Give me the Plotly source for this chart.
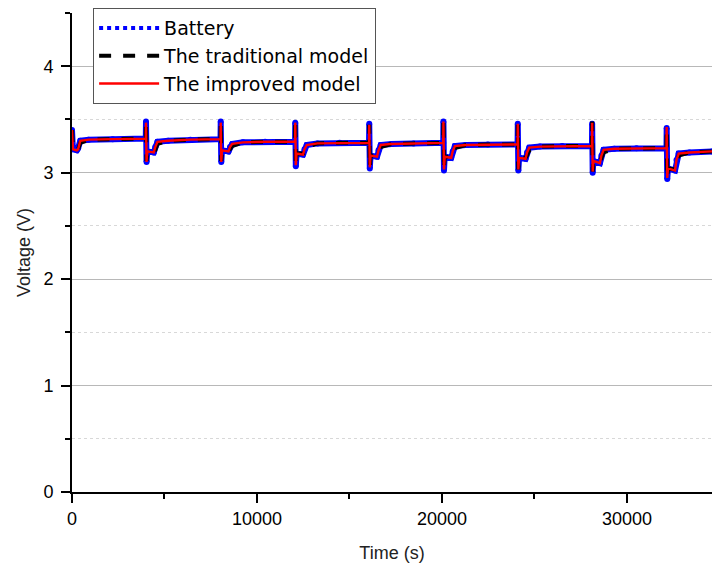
import plotly.graph_objects as go

time_s = [0, 50, 260, 330, 450, 900, 2200, 3990,
          4000, 4030, 4070, 4420, 4500, 4620, 5200, 6400, 8030,
          8040, 8070, 8110, 8460, 8540, 8660, 9240, 10440, 12060,
          12070, 12100, 12140, 12490, 12570, 12690, 13270, 14470, 16060,
          16070, 16100, 16140, 16490, 16570, 16690, 17270, 18470, 20070,
          20080, 20110, 20150, 20500, 20580, 20700, 21280, 22480, 24090,
          24100, 24130, 24170, 24520, 24600, 24720, 25300, 26500, 28110,
          28120, 28150, 28190, 28540, 28620, 28740, 29320, 30520, 32140,
          32150, 32180, 32220, 32600, 32680, 32800, 33380, 34600]

battery_v = [3.40, 3.22, 3.21, 3.23, 3.30, 3.31, 3.315, 3.32,
             3.48, 3.10, 3.20, 3.19, 3.24, 3.29, 3.30, 3.31, 3.315,
             3.48, 3.10, 3.21, 3.20, 3.24, 3.27, 3.285, 3.29, 3.29,
             3.47, 3.06, 3.18, 3.17, 3.22, 3.26, 3.275, 3.28, 3.28,
             3.46, 3.04, 3.16, 3.15, 3.21, 3.26, 3.27, 3.275, 3.28,
             3.48, 3.02, 3.15, 3.14, 3.20, 3.25, 3.26, 3.265, 3.265,
             3.46, 3.02, 3.14, 3.13, 3.19, 3.235, 3.245, 3.25, 3.25,
             3.46, 3.00, 3.11, 3.09, 3.16, 3.215, 3.225, 3.23, 3.23,
             3.42, 2.94, 3.04, 3.02, 3.12, 3.18, 3.19, 3.20]

traditional_v = [3.40, 3.23, 3.22, 3.22, 3.28, 3.31, 3.315, 3.32,
                 3.47, 3.11, 3.20, 3.20, 3.21, 3.27, 3.30, 3.31, 3.315,
                 3.47, 3.11, 3.21, 3.21, 3.22, 3.25, 3.285, 3.29, 3.29,
                 3.50, 3.07, 3.18, 3.18, 3.19, 3.24, 3.275, 3.28, 3.28,
                 3.45, 3.05, 3.16, 3.16, 3.18, 3.24, 3.27, 3.275, 3.28,
                 3.51, 3.03, 3.15, 3.15, 3.17, 3.23, 3.26, 3.265, 3.265,
                 3.45, 3.03, 3.14, 3.14, 3.16, 3.21, 3.245, 3.25, 3.25,
                 3.48, 3.01, 3.11, 3.10, 3.13, 3.19, 3.225, 3.23, 3.23,
                 3.41, 2.95, 3.04, 3.03, 3.09, 3.16, 3.19, 3.20]

improved_v = [3.40, 3.22, 3.21, 3.22, 3.30, 3.31, 3.315, 3.32,
              3.47, 3.10, 3.20, 3.19, 3.24, 3.29, 3.30, 3.31, 3.315,
              3.47, 3.10, 3.21, 3.20, 3.24, 3.27, 3.285, 3.29, 3.29,
              3.47, 3.07, 3.18, 3.17, 3.22, 3.26, 3.275, 3.28, 3.28,
              3.45, 3.05, 3.16, 3.15, 3.21, 3.26, 3.27, 3.275, 3.28,
              3.48, 3.03, 3.15, 3.14, 3.20, 3.25, 3.26, 3.265, 3.265,
              3.46, 3.03, 3.14, 3.13, 3.19, 3.235, 3.245, 3.25, 3.25,
              3.47, 3.01, 3.11, 3.09, 3.16, 3.215, 3.225, 3.23, 3.23,
              3.43, 2.95, 3.04, 3.02, 3.12, 3.18, 3.19, 3.20]

series_names = ["Battery", "The traditional model", "The improved model"]

fig = go.Figure()
# battery measurements: dense blue band in the plot, dotted symbol in the legend
fig.add_trace(go.Scatter(x=time_s, y=battery_v, mode="lines+markers", name=series_names[0],
                         legendgroup="bat", showlegend=False,
                         line=dict(color="#0000FF", width=6),
                         marker=dict(color="#0000FF", size=6)))
fig.add_trace(go.Scatter(x=[None], y=[None], mode="lines", name=series_names[0],
                         legendgroup="bat",
                         line=dict(color="#0000FF", width=4, dash="dot")))
fig.add_trace(go.Scatter(x=time_s, y=traditional_v, mode="lines", name=series_names[1],
                         line=dict(color="#000000", width=4, dash="dash")))
fig.add_trace(go.Scatter(x=time_s, y=improved_v, mode="lines", name=series_names[2],
                         line=dict(color="#FF0000", width=2.4)))

tick_font = dict(family="Liberation Sans, Arial, sans-serif", size=18, color="#000")
title_font = dict(family="Liberation Sans, Arial, sans-serif", size=18, color="#222")

fig.update_layout(
    width=712, height=569,
    margin=dict(l=72, r=0, t=13, b=77),
    paper_bgcolor="white", plot_bgcolor="white",
    showlegend=True,
    legend=dict(x=0.033, y=1.01, xanchor="left", yanchor="top",
                bgcolor="white", bordercolor="#555", borderwidth=1,
                itemwidth=60, tracegroupgap=0,
                font=dict(family="DejaVu Sans, Verdana, sans-serif", size=19, color="#000")),
    xaxis=dict(range=[0, 34600], tickvals=[0, 10000, 20000, 30000],
               ticktext=["0", "10000", "20000", "30000"],
               showgrid=False, zeroline=False, showline=True, linecolor="#000", linewidth=2,
               ticks="outside", ticklen=9, tickwidth=2, tickcolor="#000",
               minor=dict(ticks="outside", ticklen=5, tickwidth=2, tickcolor="#000", dtick=5000, tick0=0),
               tickfont=tick_font,
               title=dict(text="Time (s)", font=title_font, standoff=19)),
    yaxis=dict(range=[0, 4.5], tickvals=[0, 1, 2, 3, 4],
               showgrid=True, gridcolor="#b8b8b8", gridwidth=1,
               zeroline=False, showline=True, linecolor="#000", linewidth=2,
               ticks="outside", ticklen=9, tickwidth=2, tickcolor="#000",
               ticklabelstandoff=4,
               minor=dict(ticks="outside", ticklen=5, tickwidth=2, tickcolor="#000",
                          dtick=0.5, tick0=0, showgrid=True, gridcolor="#d8d8d8",
                          griddash="dot", gridwidth=1),
               tickfont=tick_font,
               title=dict(text="Voltage (V)", font=title_font, standoff=8)),
)

fig.write_html("out.html")
